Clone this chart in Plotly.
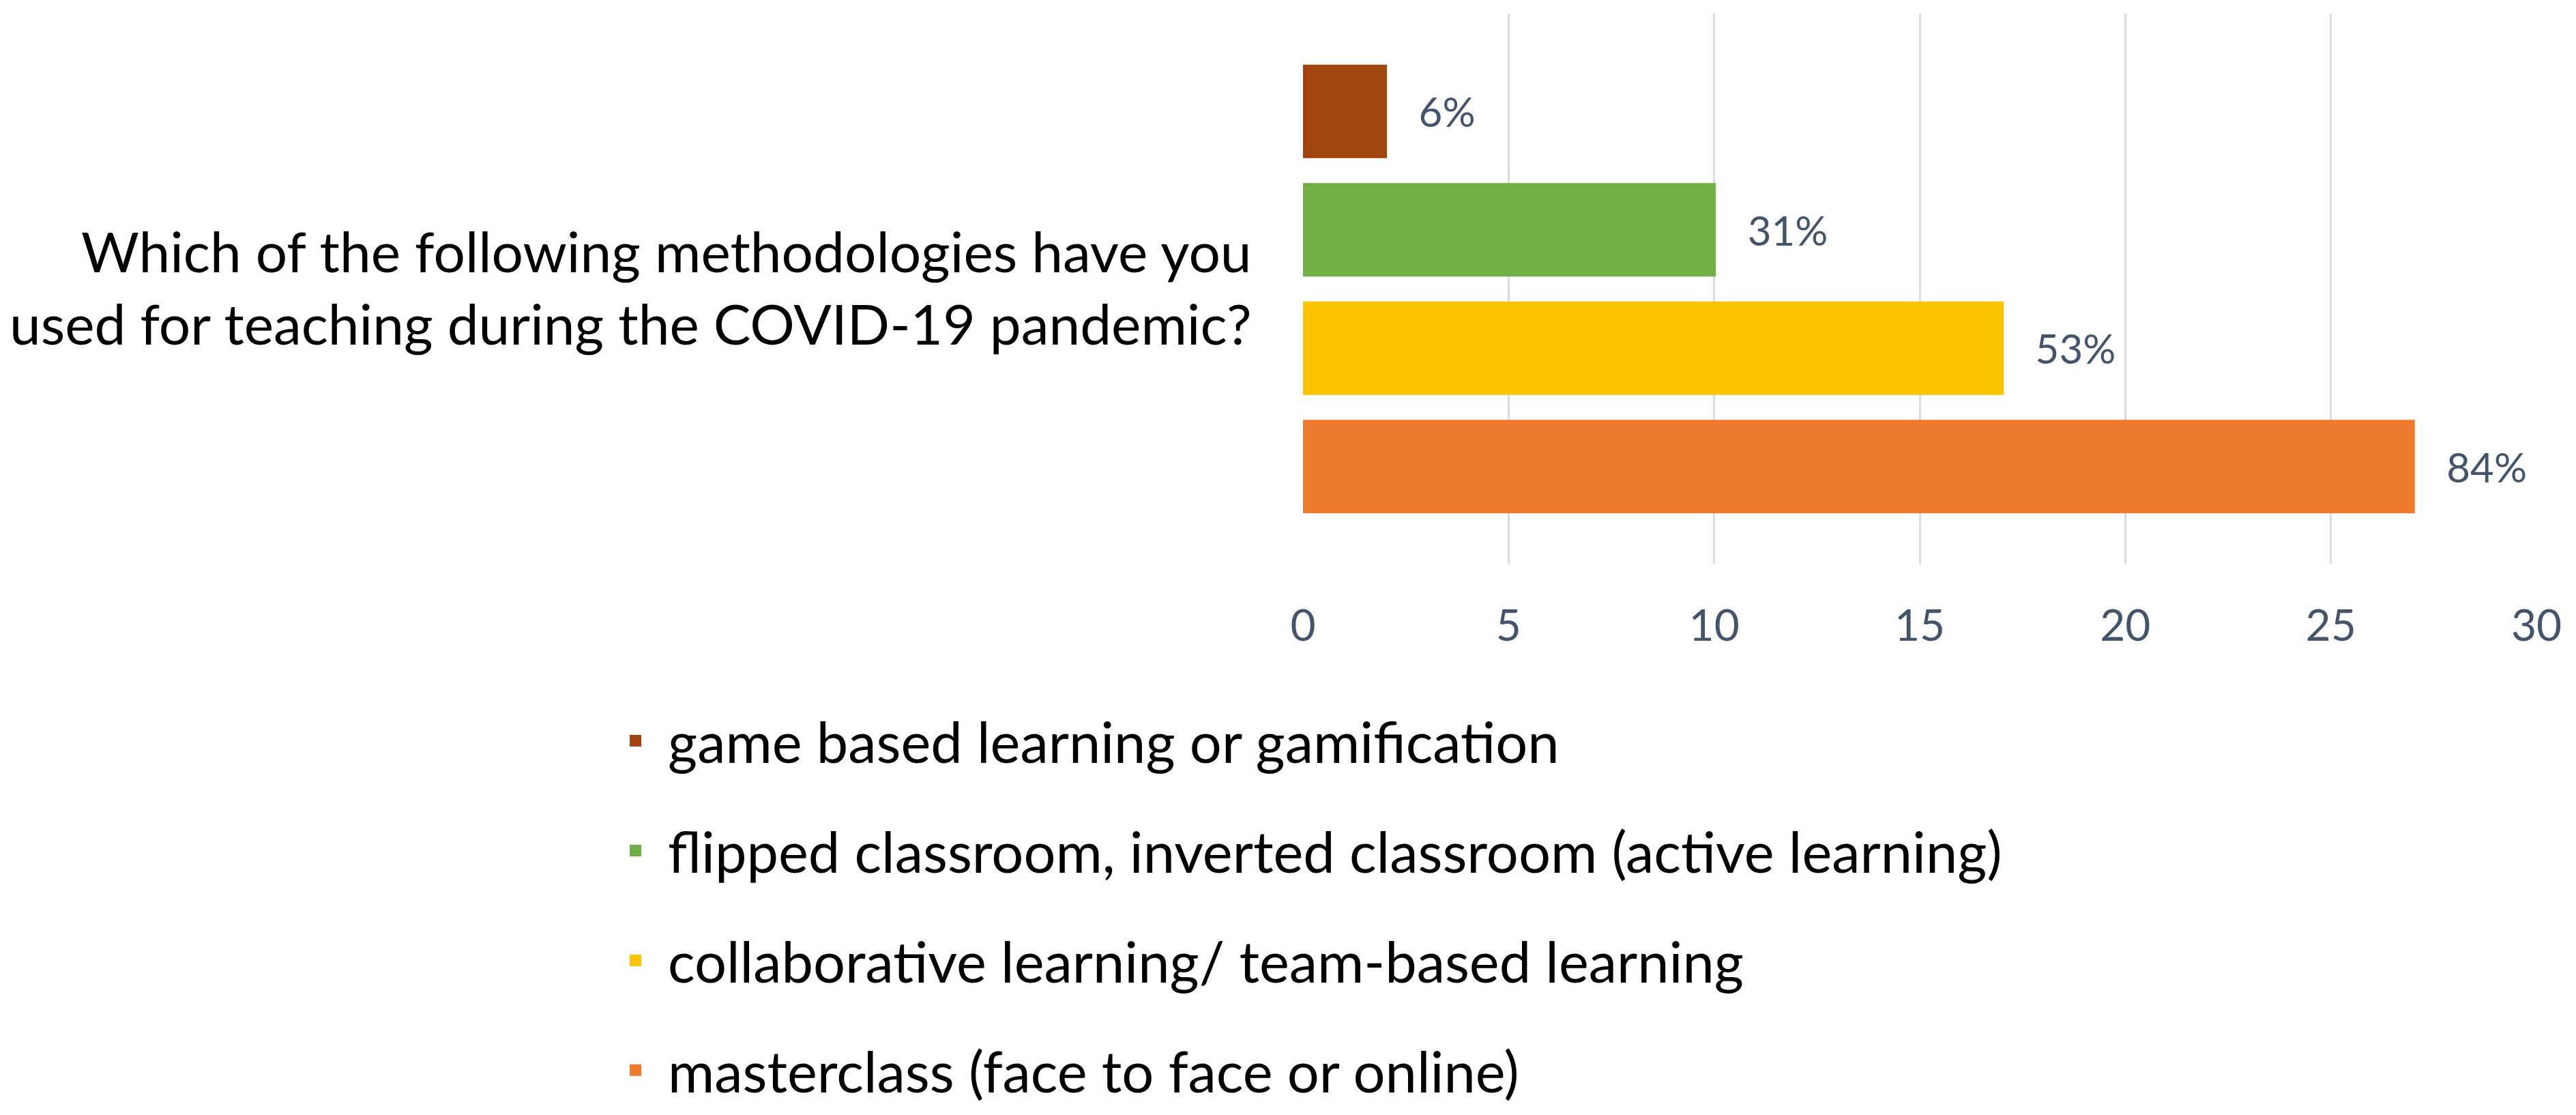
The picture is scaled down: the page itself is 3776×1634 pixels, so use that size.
import plotly.graph_objects as go

question = "Which of the following methodologies have you<br>used for teaching during the COVID-19 pandemic?"

# bottom to top, as plotly stacks grouped horizontal bars
methods = [
    "masterclass (face to face or online)",
    "collaborative learning/ team-based learning",
    "flipped classroom, inverted classroom (active learning)",
    "game based learning or gamification",
]
counts = [27, 17, 10, 2]
percent_labels = ["84%", "53%", "31%", "6%"]
colors = ["#EE7A2E", "#FCC400", "#71AE46", "#A2440F"]
legend_ranks = [4, 3, 2, 1]

label_color = "#44546A"
font_name = "Lato"

fig = go.Figure()
for name, n, lab, col, rank in zip(methods, counts, percent_labels, colors, legend_ranks):
    fig.add_trace(go.Bar(
        y=[question], x=[n], name=name, orientation="h",
        marker=dict(color=col, line=dict(width=5, color=col)),
        text=["\u00a0\u00a0\u00a0" + lab], textposition="outside",
        textfont=dict(size=60, color=label_color, family=font_name),
        cliponaxis=False, legendgroup=name, legendrank=rank,
    ))

fig.update_layout(
    width=3776, height=1634,
    margin=dict(l=1902, r=66, t=12, b=815, autoexpand=False),
    paper_bgcolor="white", plot_bgcolor="white",
    barmode="group", bargap=0.14, bargroupgap=0.24,
    font=dict(family=font_name, size=80, color="black"),
    legend=dict(
        traceorder="grouped", orientation="v",
        xref="container", yref="container",
        x=0.232, y=0.3775, xanchor="left", yanchor="top",
        font=dict(size=83, color="black", family=font_name),
        tracegroupgap=50, itemwidth=85,
    ),
)
fig.update_xaxes(
    range=[0, 30], dtick=5, showgrid=True, gridcolor="#D9DDE3", gridwidth=3,
    zeroline=False, showline=False, automargin=False,
    ticks="outside", ticklen=34, tickcolor="white",
    tickfont=dict(size=64, color=label_color, family=font_name),
)
fig.update_yaxes(
    range=[-0.5, 0.5],
    showgrid=False, zeroline=False, showline=False, automargin=False,
    ticks="outside", ticklen=58, tickcolor="white",
    tickfont=dict(size=82, color="black", family=font_name),
)

fig.write_html("out.html")
